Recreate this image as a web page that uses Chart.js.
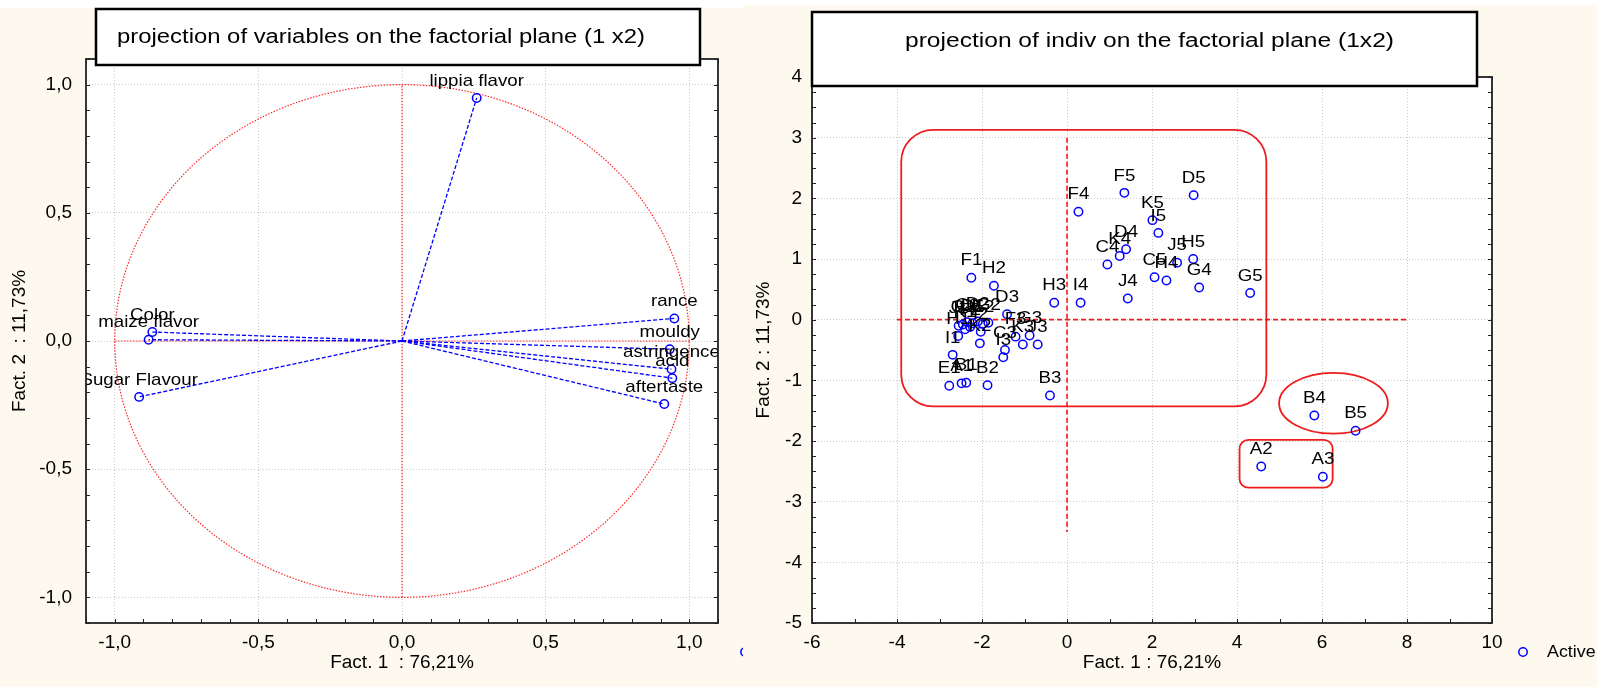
<!DOCTYPE html>
<html>
<head>
<meta charset="utf-8">
<script src="https://cdn.jsdelivr.net/npm/chart.js@4.4.0/dist/chart.umd.min.js"></script>
<style>
  html, body { margin: 0; padding: 0; background: #fff; }
  body { width: 1597px; height: 687px; position: relative; overflow: hidden; }
  #c1 { position: absolute; left: 0; top: 0; }
  #c2 { position: absolute; left: 743px; top: 0; }
</style>
</head>
<body>
<canvas id="c1" width="743" height="687"></canvas>
<canvas id="c2" width="854" height="687"></canvas>
<script>
// --- variables (correlation circle) ---
const varNames = ["lippia flavor", "rance", "mouldy", "astringence", "acid", "aftertaste", "Color", "maize flavor", "Sugar Flavour"];
const varF1 = [0.26, 0.948, 0.932, 0.938, 0.941, 0.913, -0.869, -0.882, -0.915];
const varF2 = [0.948, 0.088, -0.032, -0.110, -0.145, -0.246, 0.035, 0.005, -0.218];
const varTicks = [-1, -0.5, 0, 0.5, 1];

// --- individuals ---
const indNames = ["F4", "F5", "D5", "K5", "I5", "D4", "K4", "C4", "C5", "H4", "J5", "H5", "G4", "G5", "J4", "I4", "H3",
  "D3", "F1", "H2", "F3", "G3", "K3", "J3", "C3", "I3", "K2", "I1", "H1", "E1", "A1", "B1", "B2", "B3",
  "A2", "A3", "B4", "B5",
  "G1", "C1", "D1", "D2", "E2", "G2", "F2", "J1", "K1", "I2"];
const indF1 = [0.27, 1.35, 2.98, 2.01, 2.15, 1.39, 1.24, 0.95, 2.06, 2.34, 2.59, 2.97, 3.11, 4.31, 1.43, 0.32, -0.30,
  -1.41, -2.25, -1.72, -1.21, -0.88, -1.04, -0.69, -1.46, -1.50, -2.05, -2.69, -2.56, -2.77, -2.48, -2.37, -1.87, -0.40,
  4.57, 6.02, 5.82, 6.79,
  -2.45, -2.35, -2.22, -2.10, -1.98, -1.85, -2.28, -2.55, -2.40, -2.03];
const indF2 = [1.78, 2.09, 2.05, 1.64, 1.43, 1.16, 1.05, 0.91, 0.70, 0.645, 0.94, 1.00, 0.53, 0.44, 0.35, 0.28, 0.28,
  0.09, 0.69, 0.56, -0.28, -0.26, -0.41, -0.41, -0.50, -0.62, -0.39, -0.58, -0.27, -1.09, -1.05, -1.04, -1.08, -1.25,
  -2.42, -2.59, -1.58, -1.83,
  -0.08, -0.04, -0.06, -0.03, -0.07, -0.05, -0.12, -0.10, -0.16, -0.20];
const indXTicks = [-6, -4, -2, 0, 2, 4, 6, 8, 10];
const indYTicks = [-5, -4, -3, -2, -1, 0, 1, 2, 3, 4];

// red guides drawn by hand on the individuals plot (data units)
const crossH = [-4, 8];
const crossV = [3, -3.5];
const groupMain = [-3.9, 3.13, 4.69, -1.43];
const groupB = [4.99, -0.877, 7.55, -1.88];
const groupA = [4.06, -1.98, 6.25, -2.77];

const FONT = "'Liberation Sans', Arial, sans-serif";
const BLUE = "#0000ff";
const CREAM = "#fdf9ee";

function comma(v) { return Number(v).toFixed(1).replace(".", ","); }

function stretchText(ctx, text, x, y, size, sx, align) {
  ctx.save();
  ctx.font = size + "px " + FONT;
  ctx.translate(x, y);
  ctx.scale(sx, 1);
  ctx.textAlign = align;
  ctx.textBaseline = "middle";
  ctx.fillStyle = "#000";
  ctx.fillText(text, 0, 0);
  ctx.restore();
}

const panelPlugin = {
  id: "panel",
  beforeDraw(chart, args, o) {
    const { ctx, chartArea: a } = chart;
    ctx.save();
    ctx.fillStyle = "#fff";
    ctx.fillRect(0, 0, chart.width, chart.height);
    ctx.fillStyle = CREAM;
    ctx.fillRect(0, o.creamTop, chart.width, chart.height - o.creamTop);
    ctx.fillStyle = "#fff";
    ctx.fillRect(a.left, a.top, a.right - a.left, a.bottom - a.top);
    ctx.restore();
  },
  beforeDatasetsDraw(chart, args, o) {
    if (o.shapes) o.shapes(chart);
  },
  afterDraw(chart, args, o) {
    const { ctx, chartArea: a, scales } = chart;
    ctx.save();
    // inner ticks
    ctx.strokeStyle = "#222";
    ctx.lineWidth = 1;
    ctx.beginPath();
    const xs = scales.x, ys = scales.y;
    for (let v = xs.min; v <= xs.max + 1e-9; v += o.xMinor) {
      const p = Math.round(xs.getPixelForValue(v)) + 0.5;
      ctx.moveTo(p, a.bottom); ctx.lineTo(p, a.bottom - 4);
      ctx.moveTo(p, a.top); ctx.lineTo(p, a.top + 4);
    }
    for (let v = ys.min; v <= ys.max + 1e-9; v += o.yMinor) {
      const p = Math.round(ys.getPixelForValue(v)) + 0.5;
      ctx.moveTo(a.left, p); ctx.lineTo(a.left + 4, p);
      ctx.moveTo(a.right, p); ctx.lineTo(a.right - 4, p);
    }
    ctx.stroke();
    // plot frame
    ctx.strokeStyle = "#222";
    ctx.lineWidth = 1.8;
    ctx.strokeRect(a.left, a.top, a.right - a.left, a.bottom - a.top);
    // title box
    const b = o.box;
    ctx.fillStyle = "#fff";
    ctx.fillRect(b.x1, b.y1, b.x2 - b.x1, b.y2 - b.y1);
    ctx.strokeStyle = "#000";
    ctx.lineWidth = 2.5;
    ctx.strokeRect(b.x1, b.y1, b.x2 - b.x1, b.y2 - b.y1);
    ctx.font = "20px " + FONT;
    const w = ctx.measureText(o.title).width;
    stretchText(ctx, o.title, b.tx, b.ty, 20, b.tw / w, "left");
    // legend marker
    if (o.legend) {
      const l = o.legend;
      ctx.beginPath();
      ctx.strokeStyle = BLUE;
      ctx.lineWidth = 1.5;
      ctx.arc(l.x, l.y, 4.2, 0, Math.PI * 2);
      ctx.stroke();
      if (l.text) stretchText(ctx, l.text, l.x + 24, l.y, 17, 1.05, "left");
    }
    ctx.restore();
  }
};

const labelPlugin = {
  id: "ptLabels",
  afterDatasetsDraw(chart) {
    const { ctx, chartArea: a } = chart;
    ctx.save();
    ctx.beginPath();
    ctx.rect(a.left, a.top, a.right - a.left, a.bottom - a.top);
    ctx.clip();
    chart.data.datasets.forEach((ds, i) => {
      if (!ds.pointLabels) return;
      chart.getDatasetMeta(i).data.forEach((el, j) => {
        stretchText(ctx, ds.pointLabels[j], el.x, el.y - 17, 17, 1.1, "center");
      });
    });
    ctx.restore();
  }
};

function axisCfg(min, max, ticks, fmt, title, opts) {
  return {
    type: "linear", min: min, max: max,
    afterBuildTicks: s => { s.ticks = ticks.map(v => ({ value: v })); },
    afterFit: opts.fit,
    ticks: { font: { family: FONT, size: 19 }, color: "#000", padding: opts.pad, callback: fmt, autoSkip: false, maxRotation: 0 },
    grid: { color: "#c9c9c9", lineWidth: 1, drawTicks: false },
    border: { display: false, dash: [1, 2] },
    title: { display: true, text: title, color: "#000", font: { family: FONT, size: 19 }, padding: opts.tpad }
  };
}

const guide = { showLine: true, borderColor: "#ff2a2a", borderWidth: 1.2, borderDash: [1.5, 1.5], pointRadius: 0 };

// --- left chart: correlation circle ---
const circlePts = Array.from({ length: 241 }, (_, i) => {
  const t = i / 240 * Math.PI * 2;
  return { x: Math.cos(t), y: Math.sin(t) };
});

new Chart(document.getElementById("c1"), {
  type: "scatter",
  data: {
    datasets: [
      { data: varF1.map((x, i) => ({ x: x, y: varF2[i] })), pointLabels: varNames,
        pointRadius: 4.2, pointBorderWidth: 1.5, borderColor: BLUE, backgroundColor: "rgba(0,0,0,0)" },
      ...varF1.map((x, i) => ({ data: [{ x: 0, y: 0 }, { x: x, y: varF2[i] }], showLine: true,
        borderColor: BLUE, borderWidth: 1.3, borderDash: [4, 2], pointRadius: 0 })),
      Object.assign({ data: circlePts }, guide),
      Object.assign({ data: [{ x: 0, y: -1 }, { x: 0, y: 1 }] }, guide),
      Object.assign({ data: [{ x: -1, y: 0 }, { x: 1, y: 0 }] }, guide)
    ]
  },
  options: {
    responsive: false, animation: false, events: [],
    layout: { padding: { left: 0, right: 25, top: 59, bottom: 0 } },
    plugins: {
      legend: { display: false }, tooltip: { enabled: false },
      panel: { creamTop: 8, xMinor: 0.1, yMinor: 0.1,
        title: "projection of variables on the factorial plane (1 x2)",
        box: { x1: 96, y1: 9, x2: 700, y2: 65, tx: 117, ty: 37, tw: 528 },
        legend: { x: 745, y: 652 } }
    },
    scales: {
      x: axisCfg(-1.1, 1.1, varTicks, comma, "Fact. 1  : 76,21%", { fit: s => { s.height = 64; }, pad: 8, tpad: { top: 0, bottom: 13 } }),
      y: axisCfg(-1.1, 1.1, varTicks, comma, "Fact. 2  : 11,73%", { fit: s => { s.width = 86; }, pad: 14, tpad: { top: 8, bottom: 0 } })
    }
  },
  plugins: [panelPlugin, labelPlugin]
});

// --- right chart: individuals ---
function drawGroups(chart) {
  const { ctx, scales: { x, y } } = chart;
  const px = v => x.getPixelForValue(v), py = v => y.getPixelForValue(v);
  ctx.save();
  ctx.strokeStyle = "#ee1c1c";
  ctx.lineWidth = 1.8;
  ctx.beginPath();
  ctx.roundRect(px(groupMain[0]), py(groupMain[1]), px(groupMain[2]) - px(groupMain[0]), py(groupMain[3]) - py(groupMain[1]), 32);
  ctx.stroke();
  ctx.beginPath();
  ctx.roundRect(px(groupA[0]), py(groupA[1]), px(groupA[2]) - px(groupA[0]), py(groupA[3]) - py(groupA[1]), 9);
  ctx.stroke();
  ctx.beginPath();
  ctx.ellipse((px(groupB[0]) + px(groupB[2])) / 2, (py(groupB[1]) + py(groupB[3])) / 2,
    (px(groupB[2]) - px(groupB[0])) / 2, (py(groupB[3]) - py(groupB[1])) / 2, 0, 0, Math.PI * 2);
  ctx.stroke();
  ctx.restore();
}

const redDash = { showLine: true, borderColor: "#ee1c1c", borderWidth: 1.6, borderDash: [5, 3], pointRadius: 0 };

new Chart(document.getElementById("c2"), {
  type: "scatter",
  data: {
    datasets: [
      { data: indF1.map((x, i) => ({ x: x, y: indF2[i] })), pointLabels: indNames,
        pointRadius: 4.2, pointBorderWidth: 1.5, borderColor: BLUE, backgroundColor: "rgba(0,0,0,0)" },
      Object.assign({ data: [{ x: crossH[0], y: 0 }, { x: crossH[1], y: 0 }] }, redDash),
      Object.assign({ data: [{ x: 0, y: crossV[0] }, { x: 0, y: crossV[1] }] }, redDash)
    ]
  },
  options: {
    responsive: false, animation: false, events: [],
    layout: { padding: { left: 0, right: 105, top: 77, bottom: 0 } },
    plugins: {
      legend: { display: false }, tooltip: { enabled: false },
      panel: { creamTop: 5, xMinor: 1, yMinor: 0.25, shapes: drawGroups,
        title: "projection of indiv on the factorial plane (1x2)",
        box: { x1: 69, y1: 12, x2: 734, y2: 86, tx: 162, ty: 41, tw: 489 },
        legend: { x: 780, y: 652, text: "Active" } }
    },
    scales: {
      x: axisCfg(-6, 10, indXTicks, v => String(v), "Fact. 1 : 76,21%", { fit: s => { s.height = 64; }, pad: 8, tpad: { top: 0, bottom: 13 } }),
      y: axisCfg(-5, 4, indYTicks, v => String(v), "Fact. 2 : 11,73%", { fit: s => { s.width = 69; }, pad: 10, tpad: { top: 9, bottom: 0 } })
    }
  },
  plugins: [panelPlugin, labelPlugin]
});
</script>
</body>
</html>
